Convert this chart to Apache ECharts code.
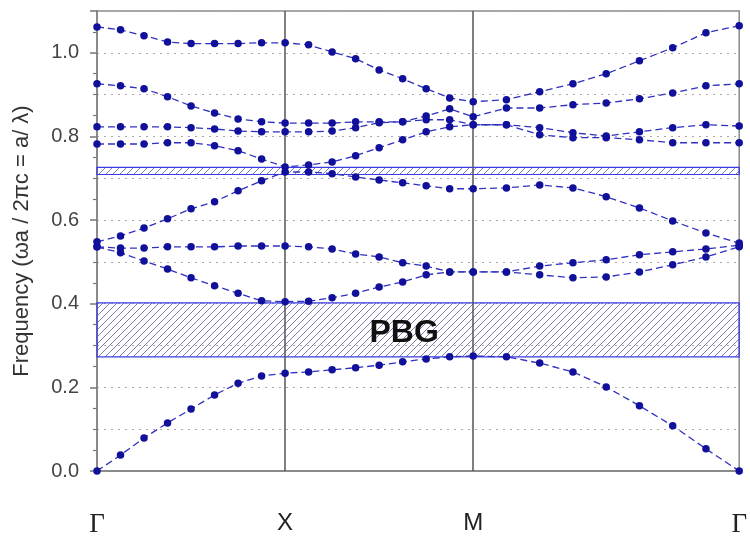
<!DOCTYPE html>
<html>
<head>
<meta charset="utf-8">
<script src="https://cdn.jsdelivr.net/npm/echarts@6/dist/echarts.min.js"></script>
<style>html,body{margin:0;padding:0;background:#fff}#c{width:750px;height:539px}</style>
</head>
<body>
<div id="c"></div>
<script>
// High-symmetry points along the k-path (Γ–X–M–Γ, segment lengths 1, 1, √2)
var kLabels = ['Γ', 'X', 'M', 'Γ'];
var kTicks = [0, 1, 2, 2 + Math.SQRT2];
var stepsPerSegment = 8;

// Band frequencies (ωa/2πc), 25 k-points each: Γ→X (9), X→M (8), M→Γ (8)
var band1 = [0, 0.038, 0.079, 0.115, 0.148, 0.182, 0.210, 0.227, 0.234,
             0.237, 0.242, 0.247, 0.253, 0.261, 0.268, 0.273, 0.275,
             0.273, 0.258, 0.237, 0.201, 0.156, 0.108, 0.053, 0];
var band2 = [0.536, 0.522, 0.502, 0.483, 0.462, 0.443, 0.425, 0.407, 0.405,
             0.406, 0.414, 0.425, 0.440, 0.452, 0.469, 0.476, 0.476,
             0.476, 0.469, 0.462, 0.464, 0.476, 0.493, 0.512, 0.536];
var band3 = [0.536, 0.533, 0.533, 0.536, 0.536, 0.536, 0.538, 0.538, 0.538,
             0.536, 0.531, 0.519, 0.512, 0.498, 0.490, 0.476, 0.476,
             0.476, 0.490, 0.498, 0.505, 0.517, 0.524, 0.531, 0.540];
var band4 = [0.548, 0.562, 0.581, 0.603, 0.627, 0.644, 0.670, 0.694, 0.715,
             0.715, 0.711, 0.703, 0.696, 0.689, 0.682, 0.675, 0.675,
             0.677, 0.684, 0.677, 0.656, 0.629, 0.598, 0.569, 0.545];
var band5 = [0.782, 0.782, 0.782, 0.785, 0.785, 0.778, 0.766, 0.746, 0.727,
             0.732, 0.739, 0.754, 0.773, 0.792, 0.811, 0.823, 0.828,
             0.828, 0.804, 0.797, 0.797, 0.792, 0.785, 0.785, 0.785];
var band6 = [0.823, 0.823, 0.823, 0.823, 0.821, 0.818, 0.813, 0.811, 0.811,
             0.811, 0.813, 0.821, 0.833, 0.835, 0.840, 0.840, 0.828,
             0.828, 0.821, 0.809, 0.801, 0.811, 0.821, 0.828, 0.825];
var band7 = [0.926, 0.921, 0.914, 0.895, 0.873, 0.856, 0.842, 0.835, 0.832,
             0.832, 0.832, 0.835, 0.835, 0.835, 0.849, 0.866, 0.847,
             0.868, 0.868, 0.876, 0.880, 0.890, 0.904, 0.921, 0.926];
var band8 = [1.062, 1.055, 1.041, 1.026, 1.022, 1.022, 1.022, 1.024, 1.024,
             1.019, 1.002, 0.986, 0.959, 0.938, 0.914, 0.892, 0.883,
             0.888, 0.907, 0.926, 0.950, 0.981, 1.012, 1.048, 1.065];
var bands = [band1, band2, band3, band4, band5, band6, band7, band8];

// Photonic band gaps [lower, upper]
var gapMain = [0.273, 0.402];
var gapSmall = [0.709, 0.726];
var gapLabel = 'PBG';

var yTickLabels = ['0.0', '0.2', '0.4', '0.6', '0.8', '1.0'];

// k-coordinates of the sampled points
var kPos = [];
for (var s = 0; s < 3; s++) {
  var a = kTicks[s], b = kTicks[s + 1];
  for (var i = (s === 0 ? 0 : 1); i <= stepsPerSegment; i++) kPos.push(a + (b - a) * i / stepsPerSegment);
}

function hatch() {
  var c = document.createElement('canvas');
  c.width = 7; c.height = 7;
  var g = c.getContext('2d');
  g.strokeStyle = '#6d6da8';
  g.lineWidth = 0.9;
  g.beginPath();
  g.moveTo(-1, 8); g.lineTo(8, -1);
  g.moveTo(-1, 1); g.lineTo(1, -1);
  g.moveTo(6, 8); g.lineTo(8, 6);
  g.stroke();
  return c;
}
var pattern = { image: hatch(), repeat: 'repeat' };

var series = bands.map(function (bd) {
  return {
    type: 'line',
    data: bd.map(function (v, i) { return [kPos[i], v]; }),
    symbol: 'circle',
    symbolSize: 7.5,
    itemStyle: { color: '#10109a' },
    lineStyle: { color: '#3030c0', width: 1.3, type: [7, 4] },
    animation: false,
    z: 5
  };
});

series.push({
  type: 'line', data: [], animation: false, silent: true,
  markArea: {
    silent: true,
    itemStyle: { color: pattern, borderColor: '#3a3ae6', borderWidth: 1.2 },
    label: { show: false },
    data: [
      [{ yAxis: gapMain[0], label: { show: true, position: 'inside', formatter: gapLabel, offset: [-14, 3],
          fontSize: 32, fontWeight: 'bold', color: '#111', fontFamily: 'Liberation Sans, Arial, sans-serif' } },
       { yAxis: gapMain[1] }],
      [{ yAxis: gapSmall[0] }, { yAxis: gapSmall[1] }]
    ]
  },
  markLine: {
    silent: true, symbol: 'none', label: { show: false },
    lineStyle: { color: '#555', width: 1.5, type: 'solid' },
    data: [{ xAxis: kTicks[1] }, { xAxis: kTicks[2] }]
  },
  z: 2
});

var chart = echarts.init(document.getElementById('c'), null, { renderer: 'canvas' });
chart.setOption({
  backgroundColor: '#fff',
  animation: false,
  grid: { left: 97, right: 8, top: 11, bottom: 68, show: true, borderColor: '#8a8a8a', borderWidth: 1.5 },
  xAxis: {
    type: 'value', min: 0, max: kTicks[3],
    axisLine: { show: true, lineStyle: { color: '#8a8a8a', width: 2 } },
    axisTick: { show: false },
    splitLine: { show: false },
    axisLabel: {
      customValues: kTicks,
      margin: 40,
      formatter: function (v) {
        var i = 0, best = 1e9;
        kTicks.forEach(function (t, j) { if (Math.abs(t - v) < best) { best = Math.abs(t - v); i = j; } });
        var l = kLabels[i];
        return l === 'Γ' ? '{g|' + l + '}' : '{s|' + l + '}';
      },
      rich: {
        g: { fontFamily: 'Liberation Serif, Times New Roman, serif', fontSize: 27, color: '#222' },
        s: { fontFamily: 'Liberation Sans, Arial, sans-serif', fontSize: 24, color: '#222' }
      }
    }
  },
  yAxis: [{
    type: 'value', min: 0, max: 1.1, interval: 0.2,
    name: 'Frequency (ωa / 2πc = a/ λ)',
    nameLocation: 'middle', nameGap: 64,
    nameTextStyle: { fontSize: 22, color: '#333', fontFamily: 'Liberation Sans, Arial, sans-serif' },
    axisLine: { show: true, lineStyle: { color: '#8a8a8a', width: 2 } },
    axisTick: { show: true, length: 7, lineStyle: { color: '#777', width: 1.5 } },
    minorTick: { show: true, splitNumber: 4, length: 4, lineStyle: { color: '#777', width: 1.2 } },
    splitLine: { show: false },
    axisLabel: {
      margin: 18, fontSize: 20, color: '#444', fontFamily: 'Liberation Sans, Arial, sans-serif',
      formatter: function (v) {
        var idx = Math.round(v / 0.2);
        return yTickLabels[idx] !== undefined && Math.abs(v - idx * 0.2) < 1e-6 ? yTickLabels[idx] : '';
      }
    }
  }, {
    type: 'value', min: 0, max: 1.1, interval: 0.1, position: 'left',
    axisLine: { show: false }, axisTick: { show: false }, axisLabel: { show: false },
    splitLine: { show: true, lineStyle: { color: '#a8a8a8', width: 1, type: [2, 5] } }
  }],
  series: series
});
</script>
</body>
</html>
